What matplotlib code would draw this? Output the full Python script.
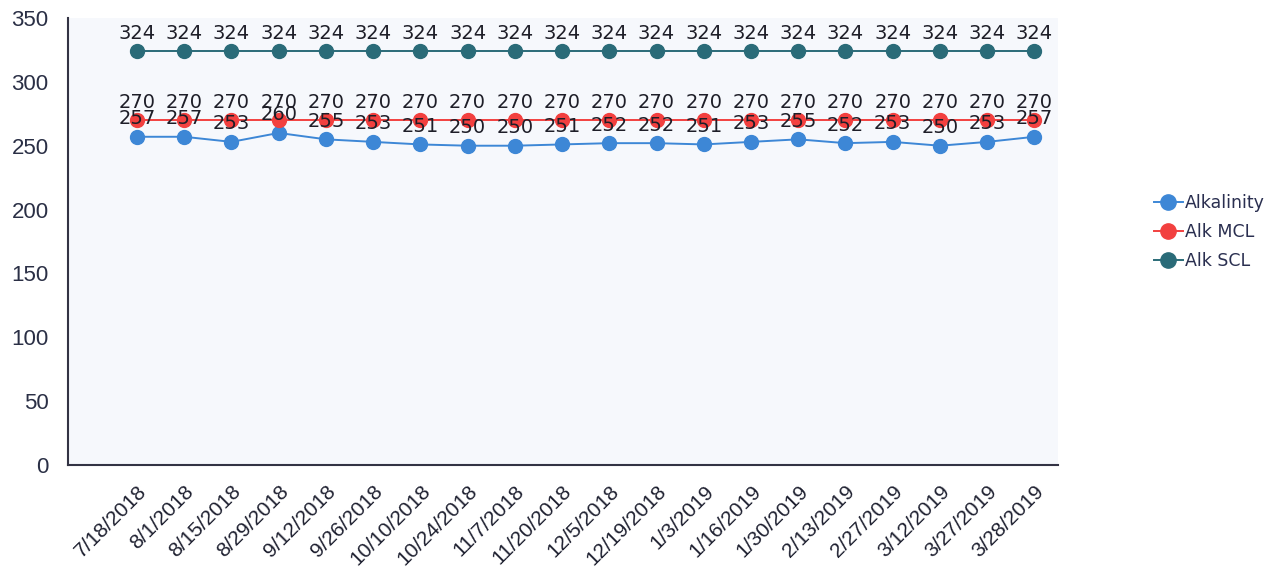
import numpy as np
import matplotlib.pyplot as plt

# sample dates and alkalinity readings
dates = ["7/18/2018", "8/1/2018", "8/15/2018", "8/29/2018", "9/12/2018",
         "9/26/2018", "10/10/2018", "10/24/2018", "11/7/2018", "11/20/2018",
         "12/5/2018", "12/19/2018", "1/3/2019", "1/16/2019", "1/30/2019",
         "2/13/2019", "2/27/2019", "3/12/2019", "3/27/2019", "3/28/2019"]
alkalinity = [257, 257, 253, 260, 255, 253, 251, 250, 250, 251,
              252, 252, 251, 253, 255, 252, 253, 250, 253, 257]
alk_mcl = [270] * 20
alk_scl = [324] * 20

yticks = [0, 50, 100, 150, 200, 250, 300, 350]

fig = plt.figure(figsize=(12.82, 5.71), dpi=100)
ax = fig.add_axes([68 / 1282, 1 - 465 / 571, (1058 - 68) / 1282, (465 - 18) / 571])
ax.set_facecolor("#f6f8fc")

x = np.arange(len(dates))
series = [
    ("Alkalinity", alkalinity, "#3d87d6"),
    ("Alk MCL", alk_mcl, "#f2403f"),
    ("Alk SCL", alk_scl, "#2a6b78"),
]
for name, vals, col in series:
    ax.plot(x, vals, color=col, lw=1.4, marker="o", ms=10, label=name, zorder=3)
    for xi, v in zip(x, vals):
        ax.annotate(str(v), (xi, v), xytext=(0, 13), textcoords="offset points",
                    ha="center", va="center", fontsize=14, color="#1e1e28",
                    family="DejaVu Sans", zorder=4)

ax.set_xlim(-1.46, 19.5)
ax.set_ylim(0, 350)
ax.set_yticks(yticks)
ax.set_xticks(x)
ax.set_xticklabels(dates, rotation=45, ha="right", rotation_mode="anchor",
                   fontsize=15, family="Liberation Sans", color="#1e2030")
for lbl in ax.get_yticklabels():
    lbl.set_fontsize(16)
    lbl.set_family("Liberation Sans")
    lbl.set_color("#2a2f45")
ax.tick_params(length=0, pad=12)
ax.tick_params(axis="y", pad=14)
for s in ["top", "right"]:
    ax.spines[s].set_visible(False)
for s in ["left", "bottom"]:
    ax.spines[s].set_color("#333344")
    ax.spines[s].set_linewidth(1.5)

fig.legend(loc="upper left", bbox_to_anchor=(1138 / 1282, 1 - 178 / 571),
           frameon=False, handlelength=1.7, handletextpad=0.1,
           labelspacing=0.65, labelcolor="#2a2f50", markerscale=1.1,
           prop={"family": "DejaVu Sans", "size": 12.5})

fig.savefig("out.png", dpi=100, facecolor="white")
